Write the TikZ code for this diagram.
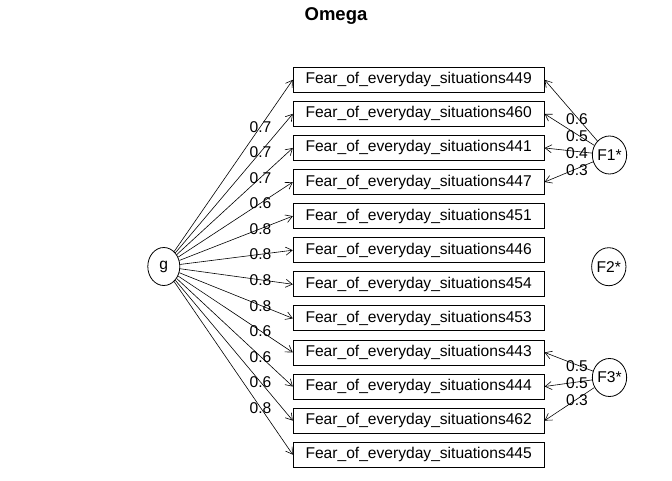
\documentclass[tikz,border=0pt]{standalone}
\usepackage{fontspec}
\setmainfont{Liberation Sans}
\usetikzlibrary{shapes.geometric,arrows.meta,calc}
\begin{document}
\begin{tikzpicture}[x=1pt,y=-1pt,
 box/.style={draw,line width=0.8pt,minimum width=251pt,minimum height=25pt,inner sep=0pt,font=\fontsize{15.6}{18}\selectfont},
 lat/.style={draw,ellipse,line width=0.8pt,minimum width=32pt,minimum height=38pt,inner sep=0pt,font=\fontsize{15.6}{18}\selectfont},
 arr/.style={line width=0.6pt,-{Straight Barb[length=6.5pt,width=8pt]}},
 lbl/.style={inner sep=0pt,anchor=base,font=\fontsize{15.6}{18}\selectfont}]
\useasboundingbox (0,0) rectangle (672,480);
\node[font=\bfseries\fontsize{18.5}{20}\selectfont] (title) at (336,16) {Omega};
\foreach \n [count=\i from 0] in {449,460,441,447,451,446,454,453,443,444,462,445}
  \node[box] (b\n) at (418.7, 79.8+34.08*\i) {Fear\_of\_everyday\_situations\n};
\node[lat] (g) at (163.8,266.5) {g};
\node[lat] (F1) at (609.5,155) {F1*};
\node[lat] (F2) at (608.8,266.7) {F2*};
\node[lat] (F3) at (609.5,377.5) {F3*};
\foreach \n/\v in {449/0.7,460/0.7,441/0.7,447/0.6,451/0.8,446/0.8,454/0.8,453/0.8,443/0.6,444/0.6,462/0.6,445/0.8}{
  \draw[arr] (g) -- (b\n.west);
  \node[lbl] (gl\n) at ($(g)!0.75!(b\n.west)+(0,5.6)$) {\v};
}
\foreach \n/\v in {449/0.6,460/0.5,441/0.4,447/0.3}{
  \draw[arr] (F1) -- (b\n.east);
  \node[lbl] (fa\n) at ($(F1)!0.5!(b\n.east)+(0,7.2)$) {\v};
}
\foreach \n/\v in {443/0.5,444/0.5,462/0.3}{
  \draw[arr] (F3) -- (b\n.east);
  \node[lbl] (fc\n) at ($(F3)!0.5!(b\n.east)+(0,6.8)$) {\v};
}
\end{tikzpicture}
\end{document}
